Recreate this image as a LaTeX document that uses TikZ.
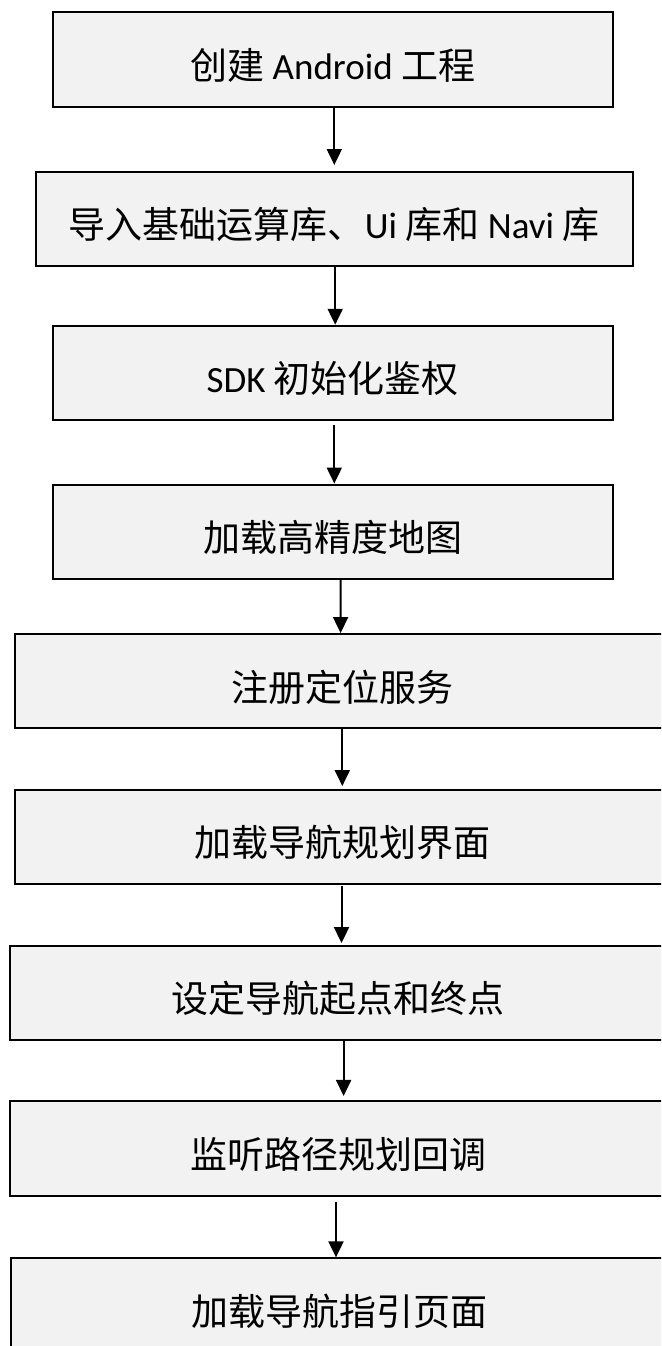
\documentclass[tikz,border=0pt]{standalone}
\usepackage{fontspec}
\setmainfont{Carlito}
\newfontfamily\cjk{Noto Sans CJK SC}
\usetikzlibrary{arrows.meta,calc}
\begin{document}
\begin{tikzpicture}[x=1pt,y=-1pt,
  stepbox/.style={draw=black,line width=2pt,fill=boxgray,rectangle,inner sep=0pt,
    font=\fontsize{37}{40}\selectfont,text height=40pt,text depth=0pt},
  arr/.style={line width=2pt,-{Triangle[length=16pt,width=15pt]}}]
\definecolor{boxgray}{HTML}{F2F2F2}
\useasboundingbox (0,0) rectangle (661,1346);
\clip (0,0) rectangle (661,1346);
\fill[white] (0,0) rectangle (661,1346);
\node[stepbox,minimum width=560pt,minimum height=94.4pt] (b1) at (332.7,59.5) {{\cjk 创建} Android {\cjk 工程}};
\node[stepbox,minimum width=597pt,minimum height=94pt] (b2) at (334.2,218.7) {{\cjk 导入基础运算库、}Ui {\cjk 库和} Navi {\cjk 库}};
\node[stepbox,minimum width=560pt,minimum height=94.3pt] (b3) at (332.7,372.9) {SDK {\cjk 初始化鉴权}};
\node[stepbox,minimum width=560pt,minimum height=94pt] (b4) at (332.7,531.5) {\cjk 加载高精度地图};
\node[stepbox,minimum width=655pt,minimum height=94.3pt] (b5) at (342.3,681.2) {\cjk 注册定位服务};
\node[stepbox,minimum width=655pt,minimum height=94.3pt] (b6) at (342.3,836.9) {\cjk 加载导航规划界面};
\node[stepbox,minimum width=656pt,minimum height=93.7pt] (b7) at (338,992.9) {\cjk 设定导航起点和终点};
\node[stepbox,minimum width=656pt,minimum height=94.5pt] (b8) at (338,1148.7) {\cjk 监听路径规划回调};
\node[stepbox,minimum width=656pt,minimum height=94.3pt] (b9) at (339.2,1305.5) {\cjk 加载导航指引页面};
\draw[arr] ($(b1.south)+(1.6,0)$) -- ($(b2.north)+(0.1,-5.7)$);
\draw[arr] ($(b2.south)+(1,0)$) -- ($(b3.north)+(2.5,0)$);
\draw[arr] ($(b3.south)+(1.6,4)$) -- ($(b4.north)+(1.6,0)$);
\draw[arr] ($(b4.south)+(7.9,0)$) -- ($(b5.north)+(-1.7,0)$);
\draw[arr] ($(b5.south)+(0,0)$) -- ($(b6.north)+(0,-2.7)$);
\draw[arr] ($(b6.south)+(-0.8,1)$) -- ($(b7.north)+(3.5,-2)$);
\draw[arr] ($(b7.south)+(5.6,-1.7)$) -- ($(b8.north)+(5.6,-4.5)$);
\draw[arr] ($(b8.south)+(-2,5)$) -- ($(b9.north)+(-3.2,0)$);
\end{tikzpicture}
\end{document}
